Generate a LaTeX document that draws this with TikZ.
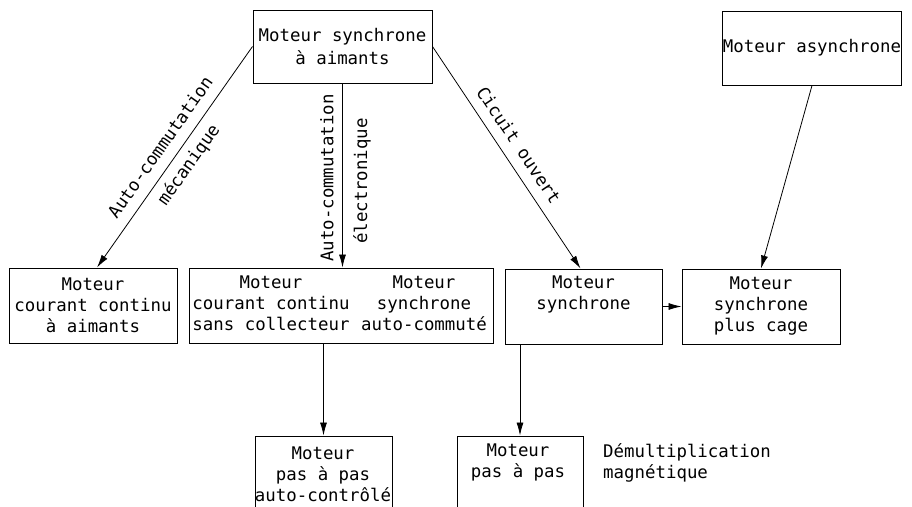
\documentclass[tikz,border=0pt]{standalone}
\usepackage{fontspec}
\setmonofont{DejaVu Sans Mono}
\usetikzlibrary{arrows.meta,calc}
\begin{document}
\begin{tikzpicture}[x=1pt,y=1pt,
  every node/.style={font=\ttfamily\fontsize{17.4}{21}\selectfont, inner sep=0pt},
  boxnode/.style={draw, line width=1pt, minimum width=#1, align=center},
  lbl/.style={font=\ttfamily\fontsize{17.4}{21}\selectfont, inner sep=0pt},
  conn/.style={line width=0.8pt, -{Latex[length=13pt,width=7pt]}}]
\useasboundingbox (0,0) rectangle (912,-506);
\clip (0,0) rectangle (912,-506);
\fill[white] (0,0) rectangle (912,-506);
% boxes
\node[boxnode=179pt, minimum height=73pt] (top) at (342.5,-46.5) {Moteur synchrone\\[2pt]à aimants};
\node[boxnode=178pt, minimum height=74pt] (async) at (812,-48) {Moteur asynchrone};
\node[boxnode=168pt, minimum height=75pt] (b1) at (93,-305.5) {Moteur\\courant continu\\à aimants};
\node[boxnode=304pt, minimum height=75pt] (b2) at (341,-305.5) {};
\node[lbl, align=center] (b2l) at (271,-303) {Moteur\\courant continu\\sans collecteur};
\node[lbl, align=center] (b2r) at (424,-303) {Moteur\\synchrone\\auto-commuté};
\node[boxnode=157pt, minimum height=75pt] (b3) at (583.5,-306.5) {Moteur\\synchrone\\\strut};
\node[boxnode=158pt, minimum height=75pt] (b4) at (761,-306.5) {Moteur\\synchrone\\plus cage};
\node[boxnode=137pt, minimum height=90pt] (b5) at (323.5,-481) {};
\node[lbl, align=center] (b5t) at (323,-474) {Moteur\\pas à pas\\auto-contrôlé};
\node[boxnode=126pt, minimum height=90pt] (b6) at (520,-481) {};
\node[lbl, align=center] (b6t) at (518,-474) {Moteur\\pas à pas\\\strut};
\node[lbl, align=left, anchor=west] (dem) at (603,-463) {Démultiplication\\magnétique};
% connectors
\draw[conn] (top.west) -- ([xshift=4pt]b1.north);
\draw[conn] (top.south) -- (top.south |- b2.north);
\draw[conn] (top.east) -- ([xshift=-3pt]b3.north);
\draw[conn] (async.south) -- (b4.north);
\draw[conn] (b3.east) -- (b4.west);
\draw[conn] (b5.north |- b2.south) -- (b5.north);
\draw[conn] (b6.north |- b3.south) -- (b6.north);
% labels
\node[lbl, rotate=54.8] (l1a) at (160,-147) {Auto-commutation};
\node[lbl, rotate=54.8] (l1b) at (189,-165) {mécanique};
\node[lbl, rotate=90] (l2a) at (327,-178) {Auto-commutation};
\node[lbl, rotate=90] (l2b) at (362,-181) {électronique};
\node[lbl, rotate=-56.2] (l3) at (519,-145) {Cicuit ouvert};
\end{tikzpicture}
\end{document}
